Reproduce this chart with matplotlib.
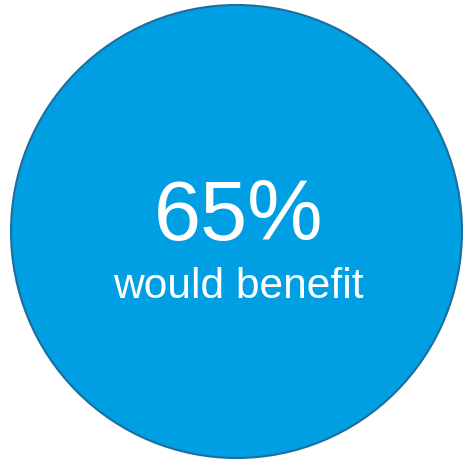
import matplotlib
matplotlib.use("Agg")
import matplotlib.pyplot as plt
from matplotlib.patches import Ellipse

# data
share_pct = 65
caption = "would benefit"

FILL = "#009fe3"
EDGE = "#1b6fa0"

fig = plt.figure(figsize=(4.63, 4.61), dpi=100)
ax = fig.add_axes([0, 0, 1, 1])
ax.set_xlim(0, 463)
ax.set_ylim(461, 0)
ax.axis("off")

circle = Ellipse((236.5, 231.5), 451, 453, facecolor=FILL, edgecolor=EDGE, linewidth=1.5)
ax.add_patch(circle)

ax.text(238, 240, f"{share_pct}%", color="white", fontsize=61,
        family="Liberation Sans", ha="center", va="baseline")
ax.text(238, 298, caption, color="white", fontsize=30.6,
        family="Liberation Sans", ha="center", va="baseline")

fig.savefig("out.png", dpi=100)
